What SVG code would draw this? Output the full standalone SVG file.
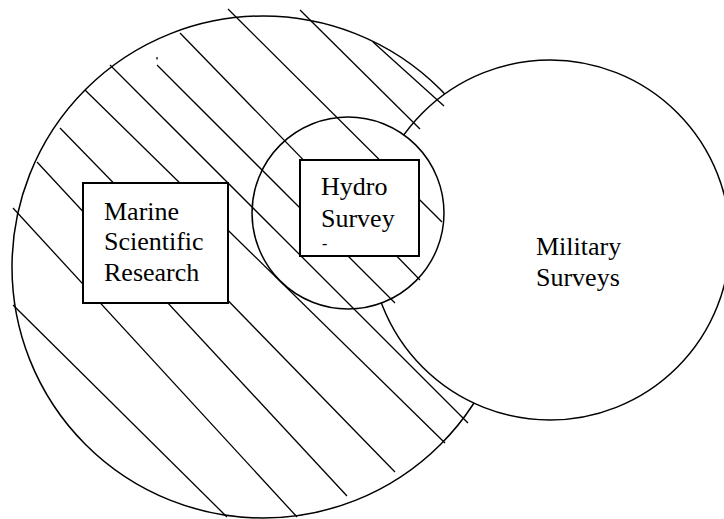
<svg xmlns="http://www.w3.org/2000/svg" width="724" height="519" viewBox="0 0 724 519">
<style>
.circ{fill:#fff;stroke:#000;stroke-width:1.5}
.box{fill:#fff;stroke:#000;stroke-width:2}
.hatch line{stroke:#000;stroke-width:1.3;stroke-linecap:butt}
.lbl{font-family:"Liberation Serif","Times New Roman",serif;font-size:26px;fill:#000}
</style>
<rect x="0" y="0" width="724" height="519" fill="#fff"/>
<g id="marine-circle"><circle class="circ" cx="263" cy="267" r="251"/></g>
<g id="military-node">
<circle class="circ" cx="550" cy="240" r="180"/>
<text class="lbl" x="536" y="255">Military</text>
<text class="lbl" x="536" y="286">Surveys</text>
</g>
<g id="hydro-circle"><circle class="circ" cx="348" cy="213" r="96"/></g>
<g id="connectors" class="hatch">
<line x1="13" y1="305" x2="227" y2="517"/>
<line x1="13" y1="208" x2="297" y2="517"/>
<line x1="37" y1="162" x2="347" y2="496"/>
<line x1="60" y1="128" x2="395" y2="472"/>
<line x1="85" y1="90" x2="445" y2="443"/>
<line x1="110" y1="65" x2="468" y2="423"/>
<line x1="157" y1="65" x2="395" y2="303"/>
<line x1="180" y1="33" x2="420" y2="280"/>
<line x1="228" y1="9" x2="442" y2="222"/>
<line x1="300" y1="10" x2="420" y2="129"/>
<line x1="373" y1="42" x2="444" y2="106"/>
<line x1="157" y1="57" x2="157" y2="59.5"/>
</g>
<g id="marine-label">
<rect class="box" x="83" y="183" width="145" height="120"/>
<text class="lbl" x="104" y="220">Marine</text>
<text class="lbl" x="104" y="250">Scientific</text>
<text class="lbl" x="104" y="281">Research</text>
</g>
<g id="hydro-label">
<rect class="box" x="300" y="160" width="119" height="96"/>
<text class="lbl" x="321" y="195">Hydro</text>
<text class="lbl" x="321" y="227">Survey</text>
<text class="lbl" x="322" y="249" style="font-size:16px">-</text>
</g>
</svg>
